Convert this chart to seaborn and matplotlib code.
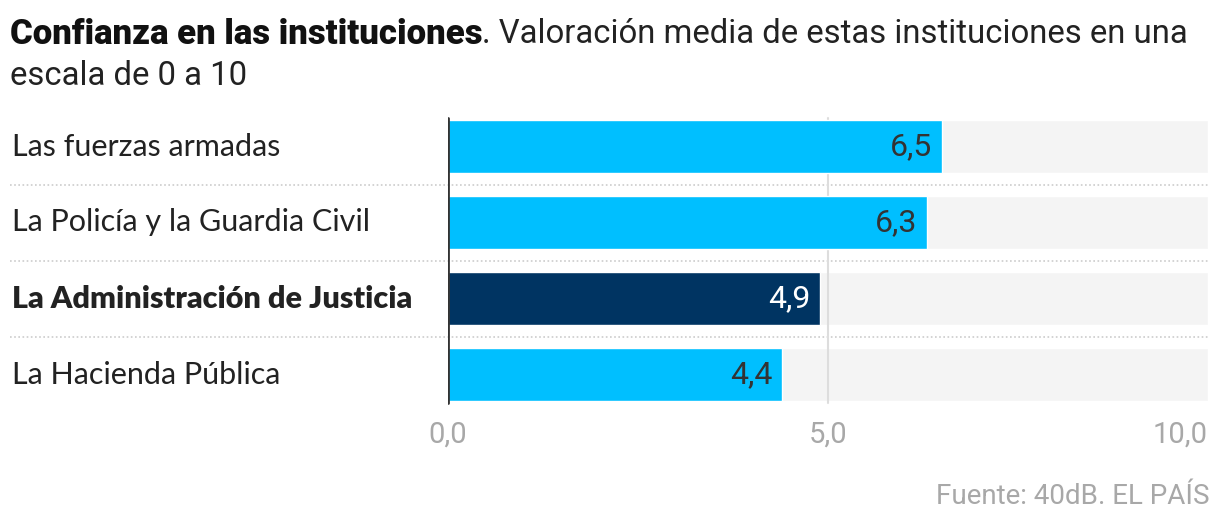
import matplotlib
matplotlib.use("Agg")
import matplotlib.pyplot as plt
import seaborn as sns
import pandas as pd

categories = ["Las fuerzas armadas", "La Policía y la Guardia Civil",
              "La Administración de Justicia", "La Hacienda Pública"]
values = [6.5, 6.3, 4.9, 4.4]
value_labels = ["6,5", "6,3", "4,9", "4,4"]
highlight = "La Administración de Justicia"
scale_max = 10
tick_values = [0, 5, 10]
tick_labels = ["0,0", "5,0", "10,0"]

title_bold = "Confianza en las instituciones"
title_rest = ". Valoración media de estas instituciones en una"
title_line2 = "escala de 0 a 10"
source = "Fuente: 40dB. EL PAÍS"

CYAN = "#00BFFF"
NAVY = "#003462"
BG = "#F4F4F4"

sns.set_theme(style="white")
plt.rcParams["font.family"] = ["Roboto", "DejaVu Sans"]

df = pd.DataFrame({"cat": categories, "val": values,
                   "full": [scale_max] * len(categories)})
colors = [NAVY if c == highlight else CYAN for c in categories]

W, H = 1220, 526
fig = plt.figure(figsize=(W / 100, H / 100), dpi=100)
ax = fig.add_axes([448 / W, 1 - 412.5 / H, 760 / W, 304 / H])

sns.barplot(data=df, y="cat", x="full", color=BG, width=0.7, ax=ax,
            saturation=1, zorder=1)
ax.axvline(5, ymin=0.03, ymax=0.97, color="#DDDDDD", lw=1.5, zorder=1.5)
sns.barplot(data=df, y="cat", x="val", hue="cat", palette=colors, width=0.7,
            ax=ax, saturation=1, legend=False, zorder=2)

ax.set_xlim(0, scale_max)
ax.set_ylim(len(categories) - 0.5, -0.5)
ax.set_xlabel("")
ax.set_ylabel("")
for s in ax.spines.values():
    s.set_visible(False)
ax.set_yticks([])
ax.set_xticks(tick_values)
ax.set_xticklabels(tick_labels, fontsize=21, color="#A8A8A8")
ax.tick_params(axis="x", length=0, pad=6)
tl = ax.get_xticklabels()
tl[0].set_ha("center")
tl[-1].set_ha("right")

ax.axvline(0, ymin=0.03, ymax=0.97, color="#333333", lw=2, zorder=3)

# labels at left and values
for i, (c, v, lab) in enumerate(zip(categories, values, value_labels)):
    bold = c == highlight
    ax.text(-436 / 76, i, c, ha="left", va="center", fontsize=22,
            family=["Lato", "DejaVu Sans"],
            fontweight="heavy" if bold else "normal", color="#222222")
    ax.text(v - 0.13, i, lab, ha="right", va="center", fontsize=23,
            color="white" if bold else "#333333", zorder=4)

# dotted separators
for i in range(len(categories) - 1):
    ax.plot([-438 / 76, scale_max], [i + 0.5, i + 0.5], ls=(0, (1, 1.5)),
            color="#CCCCCC", lw=1.2, clip_on=False, zorder=0.5)

# title
t1 = fig.text(10 / W, 1 - 34 / H, title_bold, fontsize=25, fontweight="heavy",
              color="#111111", va="center", ha="left")
fig.canvas.draw()
bb = t1.get_window_extent()
fig.text(bb.x1 / W, 1 - 34 / H, title_rest, fontsize=23.7, color="#222222",
         va="center", ha="left")
fig.text(10 / W, 1 - 76 / H, title_line2, fontsize=23.7, color="#222222",
         va="center", ha="left")
fig.text(1210 / W, 1 - 496 / H, source, fontsize=20, color="#A8A8A8",
         va="center", ha="right")

fig.savefig("out.png", dpi=100)
